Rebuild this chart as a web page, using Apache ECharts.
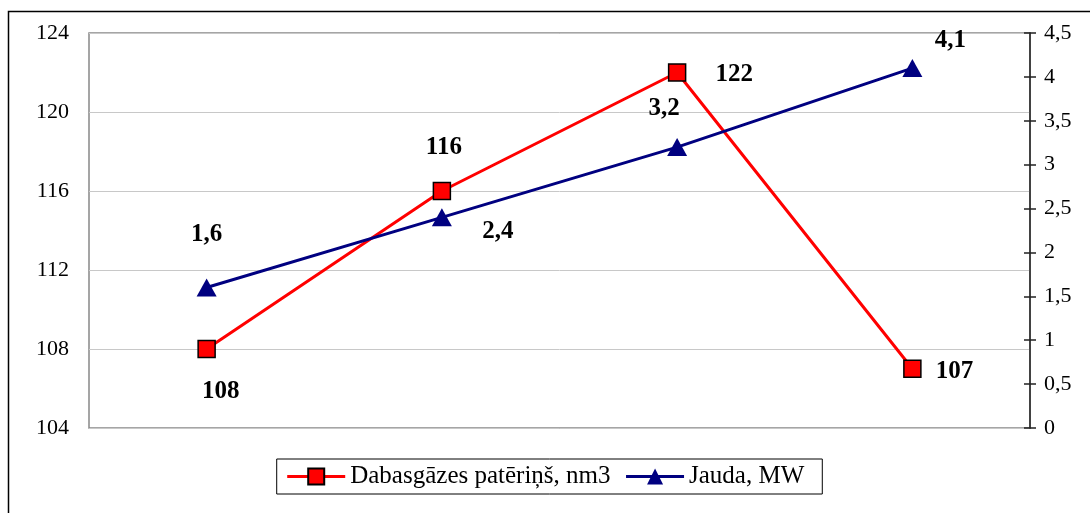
<!DOCTYPE html>
<html><head><meta charset="utf-8">
<script src="https://cdn.jsdelivr.net/npm/echarts@6/dist/echarts.min.js"></script>
<style>html,body{margin:0;padding:0;background:#fff}#c{width:1090px;height:513px}</style>
</head><body><div id="c"></div>
<script>
const categories = ['1', '2', '3', '4'];
const gasValues = [108, 116, 122, 107];
const powerValues = [1.6, 2.4, 3.2, 4.1];
const gasName = 'Dabasgāzes patēriņš, nm3';
const powerName = 'Jauda, MW';

const gasOffsets = [[14, 43], [2, -43], [57, 2], [42, 3]];
const powerOffsets = [[0, -53], [56, 14], [-13, -39], [38, -28]];
const fmt = v => String(v).replace('.', ',');
const labelStyle = {fontFamily: 'Liberation Serif', fontWeight: 'bold', fontSize: 25, color: '#000'};

const chart = echarts.init(document.getElementById('c'));
chart.setOption({
  animation: false,
  textStyle: {fontFamily: 'Liberation Serif'},
  graphic: [{type: 'rect', shape: {x: 8.5, y: 11.5, width: 1200, height: 600}, style: {fill: 'none', stroke: '#000', lineWidth: 1.5}, z: -1}],
  grid: {left: 89, right: 60, top: 33, bottom: 85, show: true, borderColor: '#888', borderWidth: 1.5},
  legend: {
    bottom: 19, left: 'center',
    data: [gasName, powerName],
    itemWidth: 58, itemHeight: 20, itemGap: 14,
    lineStyle: {width: 3},
    borderColor: '#000', borderWidth: 1, padding: [5, 18, 5, 9],
    textStyle: {fontFamily: 'Liberation Serif', fontSize: 25, color: '#000'}
  },
  xAxis: {type: 'category', data: categories, boundaryGap: true,
    axisLine: {show: false}, axisTick: {show: false}, axisLabel: {show: false}, splitLine: {show: false}},
  yAxis: [
    {type: 'value', min: 104, max: 124, interval: 4, position: 'left',
      axisLine: {show: false}, axisTick: {show: false},
      axisLabel: {fontFamily: 'Liberation Serif', fontSize: 22, color: '#000', margin: 20},
      splitLine: {lineStyle: {color: '#c8c8c8', width: 1}}},
    {type: 'value', min: 0, max: 4.5, interval: 0.5, position: 'right',
      axisLine: {show: true, lineStyle: {color: '#222', width: 1.5}},
      axisTick: {show: true, length: 6, lineStyle: {color: '#222', width: 1.5}},
      axisLabel: {fontFamily: 'Liberation Serif', fontSize: 22, color: '#000', margin: 14, formatter: fmt},
      splitLine: {show: false}},
    {type: 'value', min: 0, max: 4.5, interval: 0.5, position: 'right',
      axisLine: {show: false}, axisLabel: {show: false}, splitLine: {show: false},
      axisTick: {show: true, inside: true, length: 6, lineStyle: {color: '#222', width: 1.5}}}
  ],
  series: [
    {name: gasName, type: 'line', yAxisIndex: 0,
      data: gasValues.map((v, i) => ({value: v, label: {offset: gasOffsets[i]}})),
      symbol: 'rect', symbolSize: 17,
      lineStyle: {color: '#ff0000', width: 3},
      itemStyle: {color: '#ff0000', borderColor: '#000', borderWidth: 1.5},
      label: Object.assign({show: true, position: 'inside'}, labelStyle),
      z: 3},
    {name: powerName, type: 'line', yAxisIndex: 1,
      data: powerValues.map((v, i) => ({value: v, label: {offset: powerOffsets[i]}})),
      symbol: 'triangle', symbolSize: [20, 18],
      lineStyle: {color: '#000080', width: 3},
      itemStyle: {color: '#000080', borderColor: '#000080', borderWidth: 0},
      label: Object.assign({show: true, position: 'inside', formatter: p => fmt(p.value)}, labelStyle),
      z: 4}
  ]
});
</script></body></html>
